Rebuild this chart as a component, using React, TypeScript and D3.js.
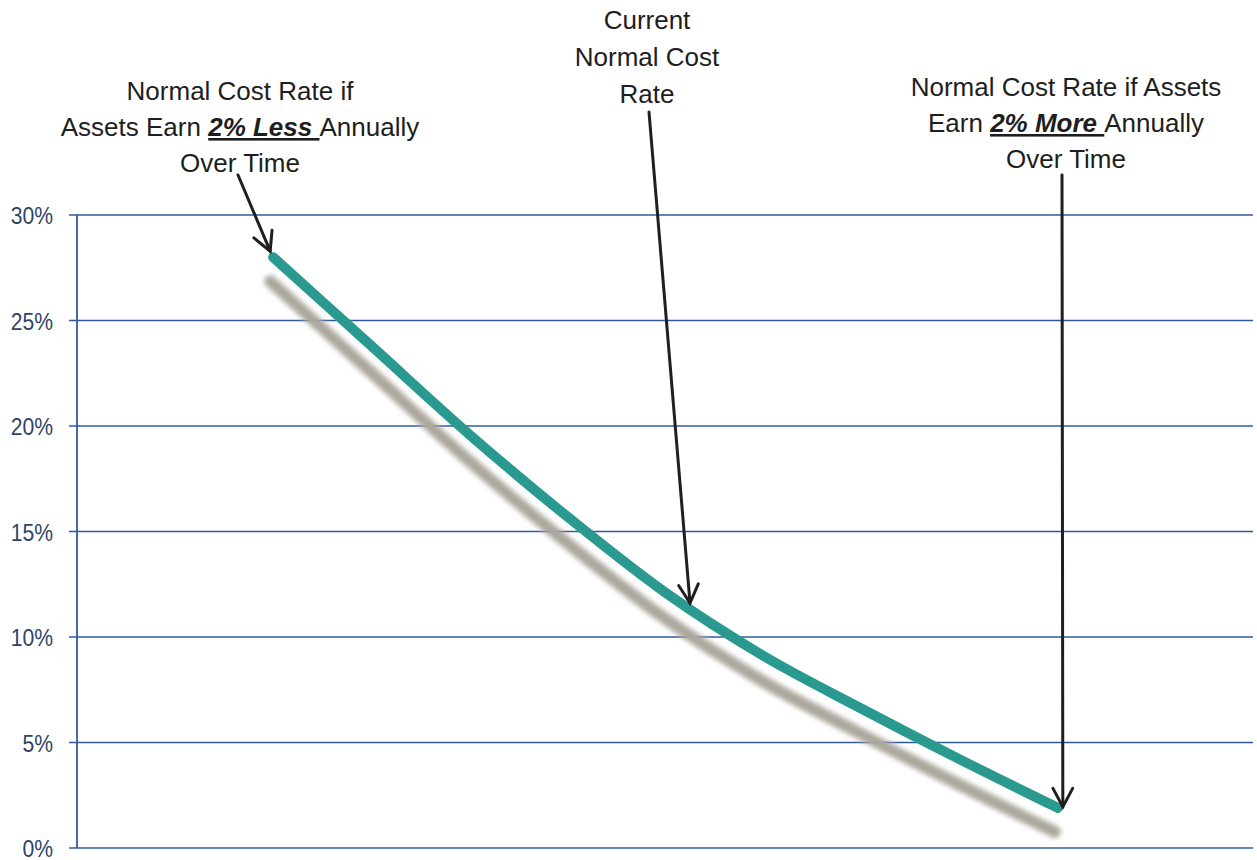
import React from "react";
import * as d3 from "d3";

// ---- data ----
const returnDiff = [-2, -1.5, -1, -0.5, 0, 0.5, 1, 1.5, 2];
const normalCostRate = [28.0, 23.8, 19.6, 15.7, 12.1, 9.1, 6.6, 4.2, 1.9];
const yTicks = [0, 5, 10, 15, 20, 25, 30];

const W = 1257;
const H = 860;
const FONT = "'Liberation Sans', Arial, sans-serif";

const x = d3.scaleLinear().domain([-3, 3]).range([77, 1254]);
const y = d3.scaleLinear().domain([0, 30]).range([848, 215]);

const pts: [number, number][] = returnDiff.map((d, i) => [d, normalCostRate[i]]);
const lineGen = d3
  .line<[number, number]>()
  .x((d) => x(d[0]))
  .y((d) => y(d[1]))
  .curve(d3.curveMonotoneX);

function Arrow({ x1, y1, x2, y2 }: { x1: number; y1: number; x2: number; y2: number }) {
  const ang = Math.atan2(y2 - y1, x2 - x1);
  const L = 21;
  const a = (28 * Math.PI) / 180;
  const p1 = [x2 - L * Math.cos(ang - a), y2 - L * Math.sin(ang - a)];
  const p2 = [x2 - L * Math.cos(ang + a), y2 - L * Math.sin(ang + a)];
  return (
    <g stroke="#1f1f1f" strokeWidth={3} fill="none" strokeLinecap="round" strokeLinejoin="miter">
      <line x1={x1} y1={y1} x2={x2} y2={y2} />
      <polyline points={`${p1[0]},${p1[1]} ${x2},${y2} ${p2[0]},${p2[1]}`} />
    </g>
  );
}

export default function App() {
  const path = lineGen(pts) || "";
  const txt = { fontFamily: FONT, fontSize: 26, fill: "#1e1e1e", textAnchor: "middle" as const };
  const emph = { fontWeight: 700, fontStyle: "italic" as const, textDecoration: "underline" };
  return (
    <div style={{ position: "fixed", left: 0, top: 0 }}>
      <svg width={W} height={H} style={{ display: "block", background: "#ffffff" }}>
        <defs>
          <filter id="blur" x="-10%" y="-10%" width="120%" height="120%">
            <feGaussianBlur stdDeviation={2.5} />
          </filter>
        </defs>
        {/* gridlines */}
        {yTicks.map((t) => (
          <line key={t} x1={69} x2={1253} y1={y(t)} y2={y(t)} stroke="#2f5b9e" strokeWidth={1.6} />
        ))}
        {/* y axis line */}
        <line x1={77} x2={77} y1={y(30)} y2={y(0)} stroke="#2f5b9e" strokeWidth={1.8} />
        {/* tick labels */}
        {yTicks.map((t) => (
          <text
            key={"l" + t}
            transform={`translate(53,${y(t) + 9}) scale(0.88,1)`}
            textAnchor="end"
            fontFamily={FONT}
            fontSize={24}
            fill="#2d4468"
          >
            {`${t}%`}
          </text>
        ))}
        {/* shadow */}
        <path
          d={path}
          transform="translate(-3,24)"
          fill="none"
          stroke="#aca79d"
          strokeWidth={12}
          strokeLinecap="round"
          filter="url(#blur)"
        />
        {/* main line */}
        <path d={path} fill="none" stroke="#2a9a90" strokeWidth={10} strokeLinecap="round" strokeLinejoin="round" />

        {/* left annotation */}
        <text {...txt} x={240} y={100}>Normal Cost Rate if</text>
        <text {...txt} x={240} y={136}>
          Assets Earn <tspan {...emph}>2% Less </tspan>Annually
        </text>
        <text {...txt} x={240} y={172}>Over Time</text>
        <Arrow x1={238} y1={175} x2={x(returnDiff[0]) - 3} y2={y(normalCostRate[0]) - 6} />

        {/* center annotation */}
        <text {...txt} x={647} y={29}>Current</text>
        <text {...txt} x={647} y={66}>Normal Cost</text>
        <text {...txt} x={647} y={103}>Rate</text>
        <Arrow x1={649} y1={112} x2={x(0.125)} y2={y(11.7) + 2} />

        {/* right annotation */}
        <text {...txt} x={1066} y={96}>Normal Cost Rate if Assets</text>
        <text {...txt} x={1066} y={132}>
          Earn <tspan {...emph}>2% More </tspan>Annually
        </text>
        <text {...txt} x={1066} y={168}>Over Time</text>
        <Arrow x1={1062} y1={175} x2={x(returnDiff[returnDiff.length - 1]) + 5} y2={y(normalCostRate[normalCostRate.length - 1]) - 1} />
      </svg>
    </div>
  );
}
